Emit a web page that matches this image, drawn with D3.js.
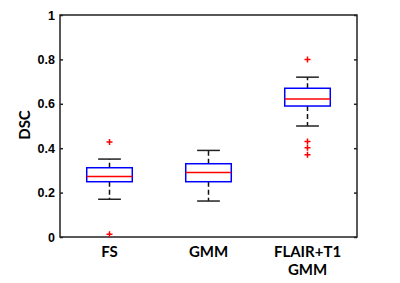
<!DOCTYPE html>
<html>
<head>
<meta charset="utf-8">
<script src="https://cdn.jsdelivr.net/npm/d3@7"></script>
<style>
  body { margin: 0; background: #fff; }
  .tick text { font-family: "Liberation Sans", Arial, sans-serif; font-weight: bold; font-size: 12.5px; }
</style>
</head>
<body>
<div id="chart"></div>
<script>
var width = 400,
  height = 283;

var margin = { top: 15, right: 43, bottom: 46, left: 60 };

// data
var groups = ['FS', 'GMM', 'FLAIR+T1\nGMM'];
var q1 = [0.249, 0.249, 0.59];
var median = [0.273, 0.291, 0.622];
var q3 = [0.312, 0.33, 0.67];
var whiskerLow = [0.17, 0.162, 0.5];
var whiskerHigh = [0.351, 0.39, 0.72];
var outliers = [[0.428, 0.012], [], [0.80, 0.43, 0.402, 0.371]];
var yTicks = [0, 0.2, 0.4, 0.6, 0.8, 1];

var svg = d3.select('#chart')
  .append('svg')
  .attr('width', width)
  .attr('height', height);

var x = d3.scaleLinear()
  .domain([0.5, 3.5])
  .range([margin.left, width - margin.right]);

var y = d3.scaleLinear()
  .domain([0, 1])
  .range([height - margin.bottom, margin.top]);

var boxW = 0.46,
  capW = 0.23;

// frame
svg.append('rect')
  .attr('x', x(0.5))
  .attr('y', y(1))
  .attr('width', x(3.5) - x(0.5))
  .attr('height', y(0) - y(1))
  .attr('fill', 'none')
  .attr('stroke', '#222')
  .attr('stroke-width', 1.5);

var yAxis = svg.append('g')
  .attr('transform', 'translate(' + x(0.5) + ',0)')
  .call(d3.axisRight(y).tickValues(yTicks).tickSize(3).tickFormat(d3.format('')));
yAxis.select('.domain').remove();
yAxis.selectAll('line').attr('stroke', '#222').attr('stroke-width', 1.5);
yAxis.selectAll('text')
  .attr('x', -5)
  .attr('text-anchor', 'end')
  .attr('fill', '#000');

var yAxisR = svg.append('g')
  .attr('transform', 'translate(' + x(3.5) + ',0)')
  .call(d3.axisLeft(y).tickValues(yTicks).tickSize(3).tickFormat(''));
yAxisR.select('.domain').remove();
yAxisR.selectAll('line').attr('stroke', '#222').attr('stroke-width', 1.5);

svg.append('text')
  .attr('transform', 'translate(30,125) rotate(-90)')
  .attr('text-anchor', 'middle')
  .style('font-family', 'Lato, "Open Sans", sans-serif')
  .style('font-weight', 'bold')
  .style('font-size', '15px')
  .text('DSC');

// category labels
groups.forEach(function (g, i) {
  var t = svg.append('text')
    .attr('text-anchor', 'middle')
    .style('font-family', 'Lato, "Open Sans", sans-serif')
    .style('font-weight', 'bold')
    .style('font-size', '15px');
  g.split('\n').forEach(function (line, j) {
    t.append('tspan')
      .attr('x', x(i + 1))
      .attr('y', 257 + j * 18)
      .text(line);
  });
});

var boxes = svg.selectAll('.box')
  .data(groups)
  .enter()
  .append('g')
  .attr('class', 'box');

// whiskers
boxes.append('line')
  .attr('x1', function (d, i) { return x(i + 1); })
  .attr('x2', function (d, i) { return x(i + 1); })
  .attr('y1', function (d, i) { return y(q3[i]); })
  .attr('y2', function (d, i) { return y(whiskerHigh[i]); })
  .attr('stroke', '#111')
  .attr('stroke-width', 1.5)
  .attr('stroke-dasharray', '5,3');

boxes.append('line')
  .attr('x1', function (d, i) { return x(i + 1); })
  .attr('x2', function (d, i) { return x(i + 1); })
  .attr('y1', function (d, i) { return y(q1[i]); })
  .attr('y2', function (d, i) { return y(whiskerLow[i]); })
  .attr('stroke', '#111')
  .attr('stroke-width', 1.5)
  .attr('stroke-dasharray', '5,3');

// caps
[whiskerHigh, whiskerLow].forEach(function (arr) {
  boxes.append('line')
    .attr('x1', function (d, i) { return x(i + 1 - capW / 2); })
    .attr('x2', function (d, i) { return x(i + 1 + capW / 2); })
    .attr('y1', function (d, i) { return y(arr[i]); })
    .attr('y2', function (d, i) { return y(arr[i]); })
    .attr('stroke', '#222')
    .attr('stroke-width', 1.5);
});

boxes.append('rect')
  .attr('x', function (d, i) { return x(i + 1 - boxW / 2); })
  .attr('y', function (d, i) { return y(q3[i]); })
  .attr('width', x(1 + boxW) - x(1))
  .attr('height', function (d, i) { return y(q1[i]) - y(q3[i]); })
  .attr('fill', 'none')
  .attr('stroke', '#0000ff')
  .attr('stroke-width', 1.5);

boxes.append('line')
  .attr('x1', function (d, i) { return x(i + 1 - boxW / 2); })
  .attr('x2', function (d, i) { return x(i + 1 + boxW / 2); })
  .attr('y1', function (d, i) { return y(median[i]); })
  .attr('y2', function (d, i) { return y(median[i]); })
  .attr('stroke', '#ff0000')
  .attr('stroke-width', 1.5);

// outliers as red plus signs
groups.forEach(function (g, i) {
  outliers[i].forEach(function (v) {
    svg.append('path')
      .attr('d', 'M-3,0H3M0,-3V3')
      .attr('transform', 'translate(' + x(i + 1) + ',' + y(v) + ')')
      .attr('stroke', '#ff0000')
      .attr('stroke-width', 1.5);
  });
});
</script>
</body>
</html>
